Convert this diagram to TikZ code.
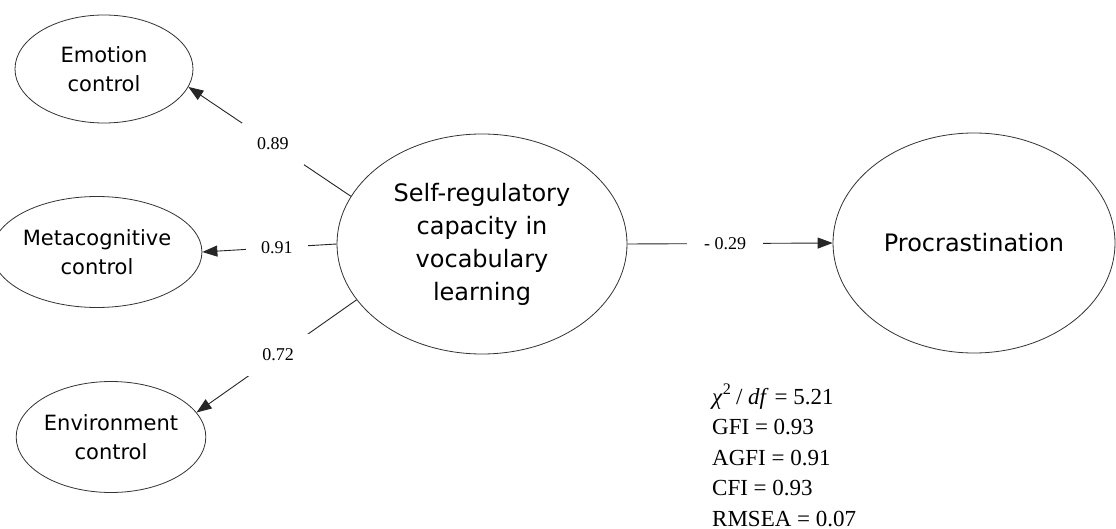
\documentclass[tikz,border=0pt]{standalone}
\usepackage{fontspec}
\setmainfont{Liberation Serif}
\newfontfamily\gothic{DejaVu Sans}
\usetikzlibrary{shapes.geometric,arrows.meta}
\begin{document}
\begin{tikzpicture}[x=1pt,y=-1pt,
  latent/.style={ellipse,draw=black!80,line width=0.8pt,inner sep=0pt,align=center,
    font=\gothic\fontsize{21}{29.5}\selectfont},
  bigl/.style={latent,font=\gothic\fontsize{24}{33}\selectfont},
  path/.style={draw=black!85,line width=0.9pt,-{Triangle[length=15pt,width=11pt]}},
  coef/.style={fill=white,inner sep=15pt,font=\fontsize{18}{20}\selectfont},
  fit/.style={anchor=base west,inner sep=0pt,font=\fontsize{23}{28}\selectfont}]
\useasboundingbox (0,0) rectangle (1116,529);
\fill[white] (0,0) rectangle (1116,529);

\node[latent,minimum width=178pt,minimum height=108pt] (emo) at (104,69) {Emotion\\control};
\node[latent,minimum width=179pt,minimum height=111pt] (meta) at (97,252) {Metacognitive\\control};
\node[latent,minimum width=178pt,minimum height=111pt] (env) at (111,437) {Environment\\control};
\node[bigl,minimum width=290pt,minimum height=220pt] (self) at (482,244) {Self-regulatory\\capacity in\\vocabulary\\learning};
\node[bigl,minimum width=282pt,minimum height=220pt] (proc) at (974,243) {Procrastination};

\draw[path] (self.160.5) -- node[coef,pos=0.48] (l1) {0.89} (emo.348);
\draw[path] (self.180) -- node[coef,pos=0.445] (l2) {0.91} (meta.east);
\draw[path] (self.204.3) -- node[coef,pos=0.49] (l3) {0.72} (env.16.3);
\draw[path] (self.east) -- node[coef,pos=0.476,inner xsep=17pt] (l4) {- 0.29} (proc.west);

\node[fit] (s1) at (712,404) {\textit{χ}\textsuperscript{2}\kern-1pt{} / \textit{df} = 5.21};
\node[fit] (s2) at (712,434) {GFI = 0.93};
\node[fit] (s3) at (712,465) {AGFI = 0.91};
\node[fit] (s4) at (712,495) {CFI = 0.93};
\node[fit] (s5) at (712,526) {RMSEA = 0.07};
\end{tikzpicture}
\end{document}
